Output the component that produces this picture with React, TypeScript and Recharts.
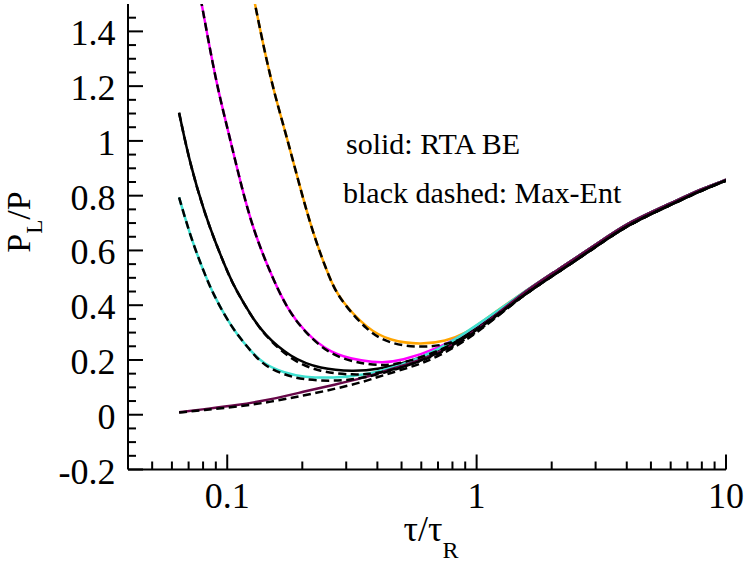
import React, { useEffect, useState } from 'react';
import { LineChart, Line, XAxis, YAxis } from 'recharts';

// ---------- tick definitions ----------
const xMajorTicks = [0.1, 1, 10];
const xMajorLabels = ['0.1', '1', '10'];
const xMinorTicks = [0.05, 0.06, 0.07, 0.08, 0.09, 0.2, 0.3, 0.4, 0.5, 0.6, 0.7, 0.8, 0.9, 2, 3, 4, 5, 6, 7, 8, 9];
const yMajorTicks = [-0.2, 0, 0.2, 0.4, 0.6, 0.8, 1, 1.2, 1.4];
const yMajorLabels = ['-0.2', '0', '0.2', '0.4', '0.6', '0.8', '1', '1.2', '1.4'];
const yMinorTicks = [-0.15, -0.1, -0.05, 0.05, 0.1, 0.15, 0.25, 0.3, 0.35, 0.45, 0.5, 0.55, 0.65, 0.7, 0.75, 0.85, 0.9, 0.95, 1.05, 1.1, 1.15, 1.25, 1.3, 1.35, 1.45];

// ---------- series values ----------
// shared late-time tail (all curves converge)
const tailX = [1.5, 2, 3, 4, 6, 8, 10];
const tailSolidY = [0.44, 0.515, 0.62, 0.70, 0.772, 0.825, 0.858];
const tailDashY = [0.43, 0.505, 0.612, 0.692, 0.766, 0.82, 0.855];

const orangeX = [0.122, 0.129, 0.1496, 0.171, 0.193, 0.219, 0.259, 0.284, 0.364, 0.45, 0.596, 0.75, 0.917, 1.04];
const orangeY = [1.62, 1.5, 1.217, 1.034, 0.852, 0.67, 0.489, 0.42, 0.313, 0.27, 0.256, 0.268, 0.3, 0.337];
const orangeDashY = [1.62, 1.5, 1.217, 1.034, 0.852, 0.67, 0.489, 0.42, 0.305, 0.258, 0.245, 0.255, 0.283, 0.315];

const magentaX = [0.075, 0.079, 0.09, 0.101, 0.1127, 0.1274, 0.1534, 0.175, 0.202, 0.259, 0.352, 0.42, 0.494, 0.7, 1.0];
const magentaY = [1.61, 1.5, 1.217, 1.034, 0.852, 0.67, 0.489, 0.385, 0.307, 0.222, 0.195, 0.19, 0.196, 0.24, 0.318];
const magentaDashY = [1.61, 1.5, 1.217, 1.034, 0.852, 0.67, 0.489, 0.385, 0.307, 0.215, 0.185, 0.18, 0.186, 0.228, 0.305];

const blackX = [0.0641, 0.071, 0.0815, 0.0893, 0.101, 0.109, 0.125, 0.14, 0.179, 0.236, 0.321, 0.4, 0.55, 0.75, 1.0];
const blackY = [1.103, 0.913, 0.731, 0.634, 0.513, 0.452, 0.36, 0.295, 0.209, 0.167, 0.158, 0.165, 0.195, 0.245, 0.31];
const blackDashY = [1.103, 0.913, 0.731, 0.634, 0.513, 0.452, 0.36, 0.295, 0.2, 0.155, 0.145, 0.15, 0.182, 0.232, 0.298];

const cyanX = [0.0641, 0.0721, 0.0828, 0.0881, 0.098, 0.109, 0.125, 0.14, 0.17, 0.202, 0.267, 0.35, 0.5, 0.7, 1.0];
const cyanY = [0.794, 0.634, 0.495, 0.44, 0.36, 0.295, 0.23, 0.185, 0.152, 0.137, 0.134, 0.143, 0.18, 0.235, 0.325];
const cyanDashY = [0.794, 0.634, 0.495, 0.44, 0.36, 0.295, 0.23, 0.18, 0.145, 0.128, 0.122, 0.132, 0.17, 0.222, 0.305];

const purpleX = [0.0641, 0.08, 0.109, 0.15, 0.202, 0.27, 0.352, 0.424, 0.55, 0.7, 1.0];
const purpleY = [0.009, 0.02, 0.034, 0.056, 0.084, 0.11, 0.135, 0.158, 0.19, 0.222, 0.305];
const purpleDashY = [0.008, 0.017, 0.029, 0.047, 0.07, 0.094, 0.12, 0.145, 0.175, 0.21, 0.295];

const build = (xs: number[], ys: number[], tail: number[]) =>
  xs.map((x, i) => ({ x, y: ys[i] })).concat(tailX.map((x, i) => ({ x, y: tail[i] })));

const series = [
  { key: 'orange', color: '#ffa500', solid: build(orangeX, orangeY, tailSolidY), dash: build(orangeX, orangeDashY, tailDashY) },
  { key: 'magenta', color: '#ff00ff', solid: build(magentaX, magentaY, tailSolidY), dash: build(magentaX, magentaDashY, tailDashY) },
  { key: 'black', color: '#000000', solid: build(blackX, blackY, tailSolidY), dash: build(blackX, blackDashY, tailDashY) },
  { key: 'cyan', color: '#40e0d0', solid: build(cyanX, cyanY, tailSolidY), dash: build(cyanX, cyanDashY, tailDashY) },
  { key: 'purple', color: '#670748', solid: build(purpleX, purpleY, tailSolidY), dash: build(purpleX, purpleDashY, tailDashY) },
];

const fontStyle = { fontFamily: '"Liberation Serif"' };
const xTicks = [...xMinorTicks, ...xMajorTicks].sort((a, b) => a - b);
const yTicks = [...yMinorTicks, ...yMajorTicks].sort((a, b) => a - b);

const near = (a: number, b: number) => Math.abs(a - b) < 1e-9;
const xMajorIndex = (v: number) => xMajorTicks.findIndex((t) => near(t, v));
const yMajorIndex = (v: number) => yMajorTicks.findIndex((t) => near(t, v));

const MAJOR = 15;
const MINOR = 8;

const XTickBottom = (props: any) => {
  const { x, y, payload } = props;
  const idx = xMajorIndex(payload.value);
  const len = idx >= 0 ? MAJOR : MINOR;
  return (
    <g>
      <line x1={x} x2={x} y1={y} y2={y - len} stroke="#000" strokeWidth={2} />
      {idx >= 0 && (
        <text x={x} y={y + 38} textAnchor="middle" fontSize={36} style={fontStyle} fill="#000">
          {xMajorLabels[idx]}
        </text>
      )}
    </g>
  );
};

const XTickTop = (props: any) => {
  const { x, y, payload } = props;
  const len = xMajorIndex(payload.value) >= 0 ? MAJOR : MINOR;
  return <line x1={x} x2={x} y1={y} y2={y + len} stroke="#000" strokeWidth={2} />;
};

const YTickLeft = (props: any) => {
  const { x, y, payload } = props;
  const idx = yMajorIndex(payload.value);
  const len = idx >= 0 ? MAJOR : MINOR;
  return (
    <g>
      <line x1={x} x2={x + len} y1={y} y2={y} stroke="#000" strokeWidth={2} />
      {idx >= 0 && (
        <text x={x - 12.5} y={y + 14} textAnchor="end" fontSize={36} style={fontStyle} fill="#000">
          {yMajorLabels[idx]}
        </text>
      )}
    </g>
  );
};

const YTickRight = (props: any) => {
  const { x, y, payload } = props;
  const len = yMajorIndex(payload.value) >= 0 ? MAJOR : MINOR;
  return <line x1={x} x2={x - len} y1={y} y2={y} stroke="#000" strokeWidth={2} />;
};

const axisLine = { stroke: '#000', strokeWidth: 2 };

export default function App() {
  const [ready, setReady] = useState(false);
  useEffect(() => {
    const f = (document as any).fonts;
    if (f && f.load) {
      Promise.all([f.load('36px "Liberation Serif"'), f.load('30px "Liberation Serif"')]).then(() => setReady(true));
    }
    const t = setTimeout(() => setReady(true), 400);
    return () => clearTimeout(t);
  }, []);

  return (
    <div style={{ position: 'absolute', left: 0, top: 0, width: 747, height: 565, background: '#fff' }}>
      <LineChart key={ready ? 'r' : 'w'} width={747} height={565} margin={{ top: 4, right: 21, bottom: 0, left: 0 }}>
        <XAxis xAxisId="b" dataKey="x" type="number" scale="log" domain={[0.04, 10]} allowDataOverflow
          ticks={xTicks} interval={0} tickSize={0} tickMargin={0} tickLine={false} tick={XTickBottom}
          axisLine={axisLine} height={95.5} orientation="bottom" />
        <XAxis xAxisId="t" dataKey="x" type="number" scale="log" domain={[0.04, 10]} allowDataOverflow
          ticks={xTicks} interval={0} tickSize={0} tickMargin={0} tickLine={false} tick={XTickTop}
          axisLine={axisLine} height={0} orientation="top" />
        <YAxis yAxisId="l" type="number" domain={[-0.2, 1.5]} allowDataOverflow ticks={yTicks} interval={0}
          tickSize={0} tickMargin={0} tickLine={false} tick={YTickLeft} axisLine={axisLine} width={128} orientation="left" />
        <YAxis yAxisId="r" type="number" domain={[-0.2, 1.5]} allowDataOverflow ticks={yTicks} interval={0}
          tickSize={0} tickMargin={0} tickLine={false} tick={YTickRight} axisLine={axisLine} width={0} orientation="right" />
        {series.map((s) => (
          <Line key={s.key + '-solid'} data={s.solid} dataKey="y" xAxisId="b" yAxisId="l" type="basis"
            stroke={s.color} strokeWidth={2.5} dot={false} activeDot={false} isAnimationActive={false} />
        ))}
        {series.map((s) => (
          <Line key={s.key + '-dash'} data={s.dash} dataKey="y" xAxisId="b" yAxisId="l" type="basis"
            stroke="#000" strokeWidth={2.5} strokeDasharray="8 4.5" dot={false} activeDot={false} isAnimationActive={false} />
        ))}
        <text x={346} y={154} fontSize={30} style={fontStyle} fill="#000">solid: RTA BE</text>
        <text x={343} y={203} fontSize={30} style={fontStyle} fill="#000">black dashed: Max-Ent</text>
        <text x={431} y={541} textAnchor="middle" fontSize={36} style={fontStyle} fill="#000">
          τ/τ<tspan dy={17} fontSize={24}>R</tspan>
        </text>
        <text x={30} y={222} transform="rotate(-90, 30, 222)" textAnchor="middle" fontSize={34} style={fontStyle} fill="#000">
          P<tspan dy={12} fontSize={23}>L</tspan><tspan dy={-12}>/P</tspan>
        </text>
      </LineChart>
    </div>
  );
}
